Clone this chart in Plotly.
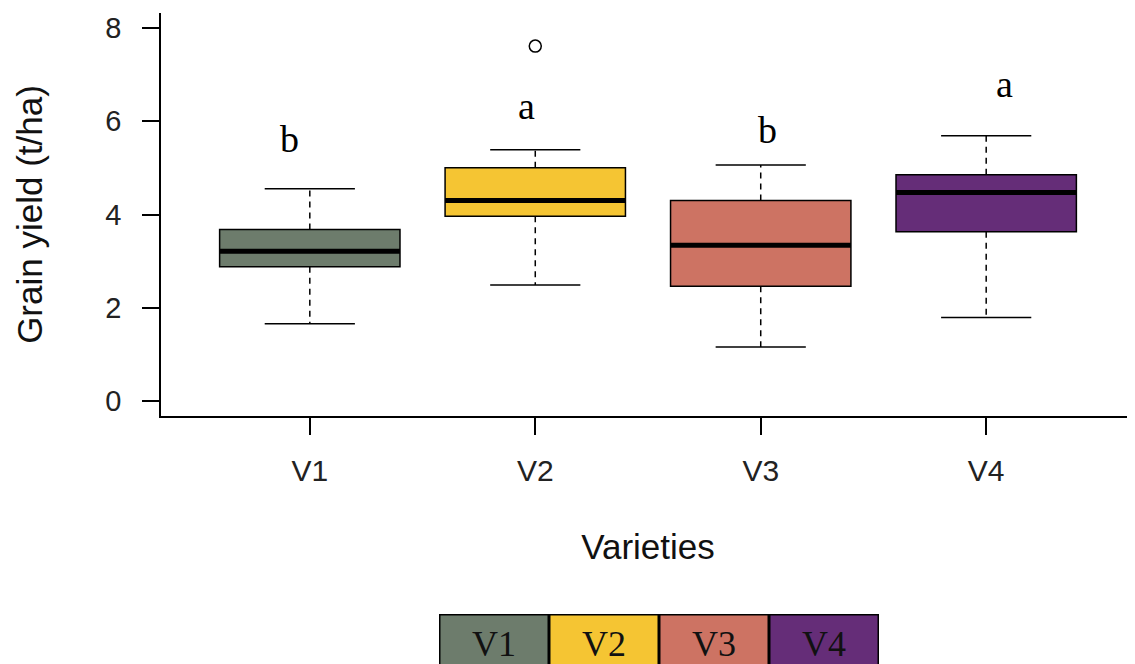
import plotly.graph_objects as go

# ---- data ----
varieties = ["V1", "V2", "V3", "V4"]
lower_whisker = [1.66, 2.49, 1.16, 1.79]
q1 = [2.88, 3.96, 2.46, 3.63]
median = [3.21, 4.30, 3.34, 4.47]
q3 = [3.68, 5.00, 4.30, 4.85]
upper_whisker = [4.55, 5.39, 5.06, 5.69]
outlier_variety = ["V2"]
outlier_value = [7.61]
letters = ["b", "a", "b", "a"]
letter_y = [5.30, 6.00, 5.50, 6.48]
colors = ["#6d7c6c", "#f5c533", "#cd7363", "#652d78"]
y_ticks = [0, 2, 4, 6, 8]

# ---- styling ----
BOX_W = 0.8
CAP_W = 0.4
letter_dx = [-0.09, -0.04, 0.03, 0.08]
SANS = "Arial, Liberation Sans, sans-serif"
SERIF = "Times New Roman, Liberation Serif, serif"

pos = {v: i + 1 for i, v in enumerate(varieties)}

fig = go.Figure()

for i, v in enumerate(varieties):
    p = pos[v]
    # dashed whiskers
    fig.add_trace(go.Scatter(
        x=[p, p, None, p, p],
        y=[q3[i], upper_whisker[i], None, q1[i], lower_whisker[i]],
        mode="lines", line=dict(color="black", width=1.5, dash="6px,5px"),
        showlegend=False, hoverinfo="skip"))
    # whisker caps
    fig.add_trace(go.Scatter(
        x=[p - CAP_W / 2, p + CAP_W / 2, None, p - CAP_W / 2, p + CAP_W / 2],
        y=[upper_whisker[i], upper_whisker[i], None, lower_whisker[i], lower_whisker[i]],
        mode="lines", line=dict(color="black", width=1.5),
        showlegend=False, hoverinfo="skip"))
    # box
    fig.add_trace(go.Box(
        x=[p], q1=[q1[i]], median=[median[i]], q3=[q3[i]],
        lowerfence=[q1[i]], upperfence=[q3[i]],
        width=BOX_W, whiskerwidth=0, fillcolor=colors[i],
        line=dict(color="black", width=1.5), boxpoints=False,
        name=v, showlegend=False))
    # thick median
    fig.add_trace(go.Scatter(
        x=[p - BOX_W / 2, p + BOX_W / 2], y=[median[i], median[i]],
        mode="lines", line=dict(color="black", width=5),
        showlegend=False, hoverinfo="skip"))

# outlier
fig.add_trace(go.Scatter(
    x=[pos[v] for v in outlier_variety], y=outlier_value, mode="markers",
    marker=dict(symbol="circle-open", size=12, color="black", line=dict(width=1.5)),
    showlegend=False))

# significance letters
for i, v in enumerate(varieties):
    fig.add_annotation(x=pos[v] + letter_dx[i], y=letter_y[i], text=letters[i],
                       showarrow=False, yanchor="bottom", yshift=-8,
                       font=dict(family=SERIF, size=38, color="black"))

# legend row below the chart (plot area: 974 x 403 px)
PLOT_W, PLOT_H = 974, 403
leg_left_px = 278   # distance from plot-area left edge
leg_cell_px = 110
leg_top_px = 198    # distance below plot-area bottom
for i, v in enumerate(varieties):
    fig.add_annotation(xref="paper", yref="paper",
                       x=(leg_left_px + leg_cell_px * (i + 0.5)) / PLOT_W,
                       y=-leg_top_px / PLOT_H,
                       xanchor="center", yanchor="top",
                       text=v, showarrow=False, width=107, height=56,
                       bgcolor=colors[i], bordercolor="black", borderwidth=1.5,
                       borderpad=0, valign="middle",
                       font=dict(family=SERIF, size=36, color="#111"))

# the page body adds an 8px offset, so the figure is 8px smaller each way
fig.update_layout(
    width=1127, height=656,
    margin=dict(l=153, r=0, t=5, b=248, autoexpand=False),
    paper_bgcolor="white", plot_bgcolor="white",
    showlegend=False,
    xaxis=dict(range=[0.34, 4.66], tickmode="array", tickvals=[1, 2, 3, 4],
               ticktext=varieties, showline=True, linecolor="black", linewidth=1.5,
               ticks="outside", ticklen=17, tickwidth=1.5, tickcolor="black",
               showgrid=False, zeroline=False, ticklabelstandoff=10, automargin=False,
               tickfont=dict(family=SANS, size=30, color="#222"),
               title=dict(text="Varieties", standoff=49,
                          font=dict(family=SANS, size=35, color="#111"))),
    yaxis=dict(range=[-0.32, 8.32], tickmode="array", tickvals=y_ticks,
               showline=True, linecolor="black", linewidth=1.5,
               ticks="outside", ticklen=17, tickwidth=1.5, tickcolor="black",
               showgrid=False, zeroline=False, ticklabelstandoff=15, automargin=False,
               tickfont=dict(family=SANS, size=29, color="#222"),
               title=dict(text="Grain yield (t/ha)", standoff=52,
                          font=dict(family=SANS, size=35, color="#111"))),
)

fig.write_html("out.html")
